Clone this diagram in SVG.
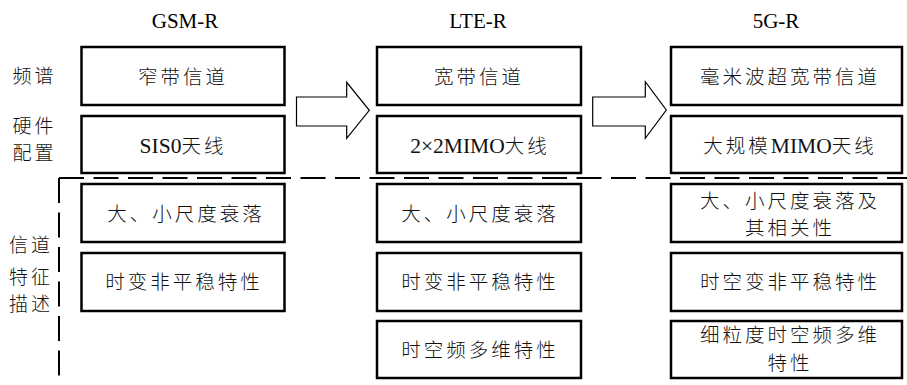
<svg xmlns="http://www.w3.org/2000/svg" width="907" height="385" viewBox="0 0 907 385">
<style>
.box{fill:#fff;stroke:#000;stroke-width:2.5}
.t{font-family:"Noto Sans CJK SC","Noto Sans CJK JP",sans-serif;font-size:19.5px;letter-spacing:3px;text-anchor:middle;fill:#111;font-weight:300}
.lbl{font-family:"Noto Sans CJK SC","Noto Sans CJK JP",sans-serif;font-size:19px;letter-spacing:3px;text-anchor:middle;fill:#111;font-weight:300}
.lat{font-family:"Liberation Serif","Times New Roman",serif;font-size:21.5px;letter-spacing:0;font-weight:400}
.title{font-family:"Liberation Serif","Times New Roman",serif;font-size:21px;text-anchor:middle;fill:#000}
.arrow{fill:#fff;stroke:#000;stroke-width:1.2}
.dash{fill:none;stroke:#000;stroke-width:2;stroke-dasharray:25 9.5}
</style>
<rect width="907" height="385" fill="#fff"/>
<g id="titles">
<text class="title" x="185" y="28">GSM-R</text>
<text class="title" x="478" y="28">LTE-R</text>
<text class="title" x="776" y="28">5G-R</text>
</g>
<g id="row-labels">
<text class="lbl" x="34.5" y="83">频谱</text>
<text class="lbl" x="34.5" y="133">硬件</text>
<text class="lbl" x="34.5" y="160">配置</text>
<text class="lbl" x="31" y="252">信道</text>
<text class="lbl" x="31" y="284">特征</text>
<text class="lbl" x="31" y="311">描述</text>
</g>
<g id="connectors">
<path class="dash" d="M59,178 H907"/>
<path class="dash" d="M59,178 V385"/>
<polygon class="arrow" points="296.5,97 346.7,97 346.7,82.3 369.3,110.3 346.7,138.3 346.7,126 296.5,126"/>
<polygon class="arrow" points="592.7,97 645.3,97 645.3,81.7 666.3,110 645.3,138.3 645.3,126 592.7,126"/>
</g>
<g id="gsm-spectrum"><rect class="box" x="81.5" y="47" width="203" height="58"/><text class="t" x="183" y="83.5">窄带信道</text></g>
<g id="gsm-hardware"><rect class="box" x="81.5" y="116" width="203" height="57"/><text class="t" x="183" y="153"><tspan class="lat">SIS0</tspan>天线</text></g>
<g id="gsm-fading"><rect class="box" x="81.5" y="184" width="203" height="58"/><text class="t" x="186" y="220.5">大、小尺度衰落</text></g>
<g id="gsm-nonstationary"><rect class="box" x="81.5" y="253" width="203" height="58"/><text class="t" x="184" y="289">时变非平稳特性</text></g>

<g id="lte-spectrum"><rect class="box" x="377" y="47" width="204" height="58"/><text class="t" x="479" y="83.5">宽带信道</text></g>
<g id="lte-hardware"><rect class="box" x="377" y="116" width="204" height="57"/><text class="t" x="480" y="153"><tspan class="lat">2×2MIMO</tspan>大线</text></g>
<g id="lte-fading"><rect class="box" x="377" y="184" width="204" height="58"/><text class="t" x="480" y="220.5">大、小尺度衰落</text></g>
<g id="lte-nonstationary"><rect class="box" x="377" y="253" width="204" height="58"/><text class="t" x="480" y="289">时变非平稳特性</text></g>
<g id="lte-multidim"><rect class="box" x="377" y="321" width="204" height="57"/><text class="t" x="480" y="357">时空频多维特性</text></g>

<g id="5g-spectrum"><rect class="box" x="671" y="47" width="231" height="58"/><text class="t" x="790" y="83.5">毫米波超宽带信道</text></g>
<g id="5g-hardware"><rect class="box" x="671" y="116" width="231" height="57"/><text class="t" x="790" y="153">大规模<tspan class="lat">MIMO</tspan>天线</text></g>
<g id="5g-fading"><rect class="box" x="671" y="184" width="231" height="58"/><text class="t" x="790" y="207.5">大、小尺度衰落及</text><text class="t" x="790" y="234.5">其相关性</text></g>
<g id="5g-nonstationary"><rect class="box" x="671" y="253" width="231" height="58"/><text class="t" x="790" y="289">时空变非平稳特性</text></g>
<g id="5g-multidim"><rect class="box" x="671" y="321" width="231" height="57"/><text class="t" x="790" y="342">细粒度时空频多维</text><text class="t" x="790" y="370">特性</text></g>
</svg>
